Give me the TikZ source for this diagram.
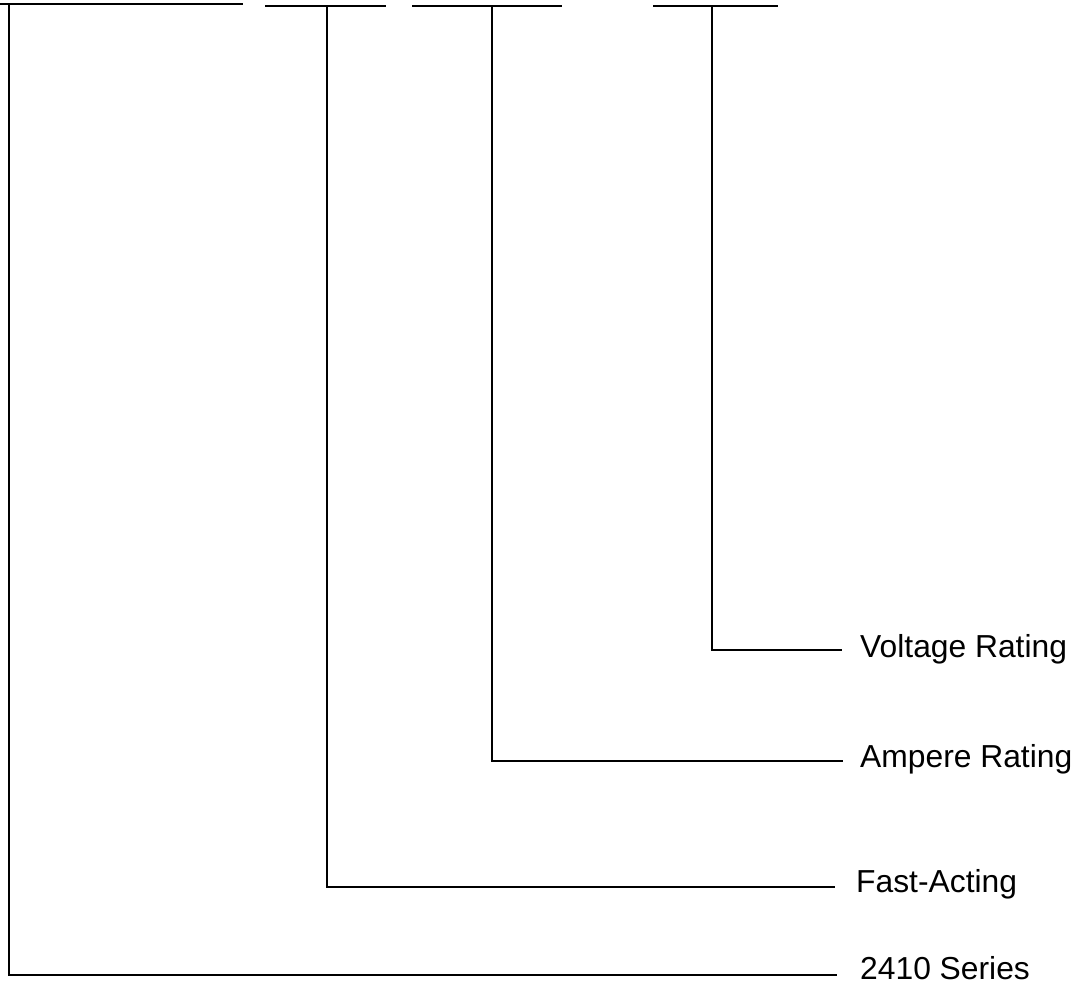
\documentclass[tikz,border=0pt]{standalone}
\usepackage{fontspec}
\setmainfont{Liberation Sans}
\begin{document}
\begin{tikzpicture}[x=1pt,y=-1pt,
  wire/.style={line width=2.3pt,line cap=butt,line join=miter},
  lab/.style={anchor=base west,inner sep=0pt,font=\fontsize{31.8}{38}\selectfont}]
\useasboundingbox (0,0) rectangle (1085,987);
% top bars
\coordinate (b1l) at (0,4);   \coordinate (b1r) at (243,4);
\coordinate (b2l) at (265,6); \coordinate (b2r) at (386,6);
\coordinate (b3l) at (412,6); \coordinate (b3r) at (562,6);
\coordinate (b4l) at (653,6); \coordinate (b4r) at (778,6);
\draw[wire] (b1l) -- (b1r);
\draw[wire] (b2l) -- (b2r);
\draw[wire] (b3l) -- (b3r);
\draw[wire] (b4l) -- (b4r);
% stems
\coordinate (s1) at (9,5);
\coordinate (s2) at (327,6);
\coordinate (s3) at (492,6);
\coordinate (s4) at (712,6);
% line ends
\coordinate (e4) at (842,650);
\coordinate (e3) at (843,761);
\coordinate (e2) at (835,887);
\coordinate (e1) at (837,975);
% labels
\node[lab] (l4) at (860,657) {Voltage Rating};
\node[lab] (l3) at (860,767) {Ampere Rating};
\node[lab] (l2) at (856,892) {Fast-Acting};
\node[lab] (l1) at (860,979) {2410 Series};
% connectors
\draw[wire] (s4) |- (e4);
\draw[wire] (s3) |- (e3);
\draw[wire] (s2) |- (e2);
\draw[wire] (s1) |- (e1);
\end{tikzpicture}
\end{document}
